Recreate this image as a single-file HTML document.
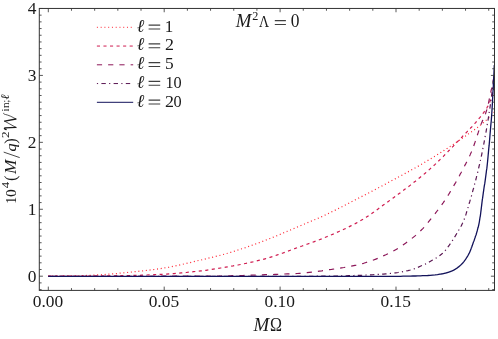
<!DOCTYPE html>
<html><head><meta charset="utf-8"><title>plot</title>
<style>
html,body{margin:0;padding:0;background:#fff;}
body{width:498px;height:339px;overflow:hidden;}
svg{display:block;will-change:transform;}
text{font-family:"Liberation Serif",serif;fill:#1a1a1a;}
</style></head><body>
<svg width="498" height="339" viewBox="0 0 498 339">
<rect width="498" height="339" fill="#fff"/>

<defs><clipPath id="c"><rect x="39.3" y="8.45" width="455.2" height="281.95"/></clipPath></defs>
<g clip-path="url(#c)" fill="none" stroke-linecap="butt" stroke-linejoin="round">
<path d="M48.3,276.0L50.8,276.0L53.2,276.0L55.7,276.0L58.2,276.0L60.6,276.0L63.1,275.9L65.5,275.9L68.0,275.9L70.5,275.9L72.9,275.8L75.4,275.8L77.9,275.8L80.3,275.7L82.8,275.6L85.3,275.5L87.7,275.4L90.2,275.3L92.6,275.2L95.1,275.1L97.6,274.9L100.0,274.8L102.5,274.7L105.0,274.5L107.4,274.3L109.9,274.1L112.4,273.9L114.8,273.7L117.3,273.5L119.7,273.2L122.2,273.0L124.7,272.7L127.1,272.5L129.6,272.2L132.1,272.0L134.5,271.7L137.0,271.5L139.5,271.2L141.9,271.0L144.4,270.7L146.8,270.4L149.3,270.1L151.8,269.8L154.2,269.5L156.7,269.1L159.2,268.8L161.6,268.4L164.1,268.0L166.5,267.6L169.0,267.2L171.5,266.7L173.9,266.2L176.4,265.7L178.9,265.2L181.3,264.6L183.8,264.0L186.3,263.5L188.7,262.9L191.2,262.3L193.6,261.7L196.1,261.1L198.6,260.5L201.0,260.0L203.5,259.4L206.0,258.8L208.4,258.2L210.9,257.6L213.4,257.0L215.8,256.4L218.3,255.8L220.7,255.2L223.2,254.5L225.7,253.8L228.1,253.1L230.6,252.4L233.1,251.6L235.5,250.8L238.0,250.0L240.5,249.2L242.9,248.4L245.4,247.6L247.8,246.7L250.3,245.8L252.8,245.0L255.2,244.1L257.7,243.2L260.2,242.3L262.6,241.4L265.1,240.4L267.6,239.5L270.0,238.5L272.5,237.5L274.9,236.5L277.4,235.5L279.9,234.5L282.3,233.4L284.8,232.4L287.3,231.3L289.7,230.3L292.2,229.2L294.7,228.2L297.1,227.1L299.6,226.1L302.0,225.0L304.5,224.0L307.0,223.0L309.4,221.9L311.9,220.9L314.4,219.8L316.8,218.8L319.3,217.7L321.8,216.6L324.2,215.5L326.7,214.3L329.1,213.1L331.6,211.9L334.1,210.7L336.5,209.5L339.0,208.2L341.5,207.0L343.9,205.7L346.4,204.5L348.8,203.2L351.3,201.9L353.8,200.6L356.2,199.4L358.7,198.1L361.2,196.8L363.6,195.5L366.1,194.3L368.6,193.0L371.0,191.7L373.5,190.4L375.9,189.1L378.4,187.8L380.9,186.5L383.3,185.2L385.8,183.9L388.3,182.5L390.7,181.2L393.2,179.9L395.7,178.6L398.1,177.2L400.6,175.9L403.0,174.6L405.5,173.2L408.0,171.9L410.4,170.5L412.9,169.1L415.4,167.8L417.8,166.4L420.3,165.0L422.8,163.5L425.2,162.1L427.7,160.6L430.1,159.1L432.6,157.6L435.1,156.1L437.5,154.6L440.0,153.0L440.2,152.9L440.4,152.8L440.6,152.6L440.8,152.5L441.1,152.4L441.3,152.2L441.5,152.1L441.7,152.0L441.9,151.8L442.1,151.7L442.3,151.6L442.5,151.4L442.7,151.3L442.9,151.2L443.2,151.0L443.4,150.9L443.6,150.8L443.8,150.6L444.0,150.5L444.2,150.4L444.4,150.2L444.6,150.1L444.8,150.0L445.1,149.8L445.3,149.7L445.5,149.5L445.7,149.4L445.9,149.3L446.1,149.1L446.3,149.0L446.5,148.9L446.7,148.7L446.9,148.6L447.2,148.5L447.4,148.3L447.6,148.2L447.8,148.0L448.0,147.9L448.2,147.8L448.4,147.6L448.6,147.5L448.8,147.4L449.0,147.2L449.3,147.1L449.5,146.9L449.7,146.8L449.9,146.7L450.1,146.5L450.3,146.4L450.5,146.2L450.7,146.1L450.9,146.0L451.2,145.8L451.4,145.7L451.6,145.5L451.8,145.4L452.0,145.3L452.2,145.1L452.4,145.0L452.6,144.8L452.8,144.7L453.0,144.6L453.3,144.4L453.5,144.3L453.7,144.1L453.9,144.0L454.1,143.9L454.3,143.7L454.5,143.6L454.7,143.4L454.9,143.3L455.2,143.1L455.4,143.0L455.6,142.9L455.8,142.7L456.0,142.6L456.2,142.4L456.4,142.3L456.6,142.1L456.8,142.0L457.0,141.9L457.3,141.7L457.5,141.6L457.7,141.4L457.9,141.3L458.1,141.1L458.3,141.0L458.5,140.8L458.7,140.7L458.9,140.6L459.1,140.4L459.4,140.3L459.6,140.1L459.8,140.0L460.0,139.8L460.2,139.7L460.4,139.5L460.6,139.4L460.8,139.2L461.0,139.1L461.3,139.0L461.5,138.8L461.7,138.7L461.9,138.5L462.1,138.4L462.3,138.2L462.5,138.1L462.7,137.9L462.9,137.8L463.1,137.6L463.4,137.5L463.6,137.4L463.8,137.2L464.0,137.1L464.2,136.9L464.4,136.8L464.6,136.6L464.8,136.5L465.0,136.3L465.3,136.2L465.5,136.0L465.7,135.9L465.9,135.8L466.1,135.6L466.3,135.5L466.5,135.3L466.7,135.2L466.9,135.0L467.1,134.9L467.4,134.7L467.6,134.6L467.8,134.4L468.0,134.3L468.2,134.1L468.4,134.0L468.6,133.8L468.8,133.7L469.0,133.6L469.2,133.4L469.5,133.3L469.7,133.1L469.9,133.0L470.1,132.8L470.3,132.7L470.5,132.5L470.7,132.4L470.9,132.2L471.1,132.1L471.4,131.9L471.6,131.8L471.8,131.6L472.0,131.5L472.2,131.3L472.4,131.2L472.6,131.0L472.8,130.9L473.0,130.7L473.2,130.5L473.5,130.4L473.7,130.2L473.9,130.1L474.1,129.9L474.3,129.8L474.5,129.6L474.7,129.5L474.9,129.3L475.1,129.2L475.4,129.0L475.6,128.8L475.8,128.7L476.0,128.5L476.2,128.4L476.4,128.2L476.6,128.1L476.8,127.9L477.0,127.7L477.2,127.6L477.5,127.4L477.7,127.3L477.9,127.1L478.1,126.9L478.3,126.8L478.5,126.6L478.7,126.4L478.9,126.3L479.1,126.1L479.3,126.0L479.6,125.8L479.8,125.6L480.0,125.5L480.2,125.3L480.4,125.1L480.6,125.0L480.8,124.8L481.0,124.6L481.2,124.5L481.5,124.3L481.7,124.1L481.9,123.9L482.1,123.8L482.3,123.6L482.5,123.4L482.7,123.3L482.9,123.1L483.1,122.9L483.3,122.7L483.6,122.6L483.8,122.4L484.0,122.2L484.2,122.0L484.4,121.9L484.6,121.7L484.8,121.5L485.0,121.3L485.2,121.1L485.5,121.0L485.7,120.8L485.9,120.6L486.1,120.4L486.3,120.2L486.5,120.0L486.7,119.9L486.9,119.7L487.1,119.5L487.3,119.3L487.6,119.1L487.8,118.9L488.0,118.7L488.2,118.5L488.4,118.3L488.6,118.1L488.8,117.9L489.0,117.7L489.2,117.5L489.4,117.3L489.7,117.1L489.9,116.9L490.1,116.7L490.3,116.5L490.5,116.3L490.7,116.1L490.9,115.8L491.1,115.6L491.3,115.4L491.6,115.2L491.8,115.0L492.0,114.7L492.2,114.5L492.4,114.3L492.6,114.1L492.8,113.8L493.0,113.6L493.2,113.4L493.4,113.1L493.7,112.9L493.9,112.7L494.1,112.5L494.3,112.2L494.5,112.0" stroke="#ff2230" stroke-width="1.2" stroke-dasharray="1 2.76"/>
<path d="M48.3,276.1L50.8,276.1L53.2,276.1L55.7,276.1L58.2,276.1L60.6,276.1L63.1,276.1L65.5,276.1L68.0,276.1L70.5,276.1L72.9,276.0L75.4,276.0L77.9,276.0L80.3,276.0L82.8,276.0L85.3,276.0L87.7,276.0L90.2,276.0L92.6,275.9L95.1,275.9L97.6,275.9L100.0,275.9L102.5,275.9L105.0,275.9L107.4,275.8L109.9,275.8L112.4,275.8L114.8,275.8L117.3,275.7L119.7,275.7L122.2,275.6L124.7,275.6L127.1,275.6L129.6,275.5L132.1,275.5L134.5,275.4L137.0,275.3L139.5,275.3L141.9,275.2L144.4,275.1L146.8,275.0L149.3,274.9L151.8,274.8L154.2,274.7L156.7,274.6L159.2,274.5L161.6,274.3L164.1,274.2L166.5,274.1L169.0,273.9L171.5,273.7L173.9,273.6L176.4,273.4L178.9,273.1L181.3,272.9L183.8,272.7L186.3,272.5L188.7,272.2L191.2,272.0L193.6,271.7L196.1,271.4L198.6,271.2L201.0,270.9L203.5,270.6L206.0,270.3L208.4,269.9L210.9,269.6L213.4,269.2L215.8,268.8L218.3,268.4L220.7,268.0L223.2,267.6L225.7,267.2L228.1,266.8L230.6,266.3L233.1,265.9L235.5,265.4L238.0,265.0L240.5,264.5L242.9,264.0L245.4,263.5L247.8,263.0L250.3,262.4L252.8,261.9L255.2,261.3L257.7,260.7L260.2,260.1L262.6,259.5L265.1,258.8L267.6,258.1L270.0,257.3L272.5,256.6L274.9,255.8L277.4,254.9L279.9,254.0L282.3,253.2L284.8,252.3L287.3,251.4L289.7,250.5L292.2,249.5L294.7,248.6L297.1,247.7L299.6,246.8L302.0,246.0L304.5,245.1L307.0,244.2L309.4,243.4L311.9,242.5L314.4,241.6L316.8,240.7L319.3,239.8L321.8,238.8L324.2,237.8L326.7,236.8L329.1,235.8L331.6,234.7L334.1,233.7L336.5,232.6L339.0,231.5L341.5,230.4L343.9,229.3L346.4,228.1L348.8,226.9L351.3,225.6L353.8,224.4L356.2,223.1L358.7,221.7L361.2,220.3L363.6,218.9L366.1,217.3L368.6,215.7L371.0,214.0L373.5,212.3L375.9,210.5L378.4,208.7L380.9,206.9L383.3,205.1L385.8,203.3L388.3,201.5L390.7,199.7L393.2,197.9L395.7,196.1L398.1,194.3L400.6,192.5L403.0,190.7L405.5,188.8L408.0,187.0L410.4,185.1L412.9,183.1L415.4,181.2L417.8,179.2L420.3,177.2L422.8,175.2L425.2,173.2L427.7,171.1L430.1,168.9L432.6,166.7L435.1,164.4L437.5,162.0L440.0,159.6L440.2,159.4L440.4,159.2L440.6,159.0L440.8,158.8L441.1,158.6L441.3,158.4L441.5,158.2L441.7,158.0L441.9,157.8L442.1,157.6L442.3,157.4L442.5,157.2L442.7,156.9L442.9,156.7L443.2,156.5L443.4,156.3L443.6,156.1L443.8,155.9L444.0,155.7L444.2,155.5L444.4,155.3L444.6,155.0L444.8,154.8L445.1,154.6L445.3,154.4L445.5,154.2L445.7,154.0L445.9,153.8L446.1,153.6L446.3,153.3L446.5,153.1L446.7,152.9L446.9,152.7L447.2,152.5L447.4,152.3L447.6,152.0L447.8,151.8L448.0,151.6L448.2,151.4L448.4,151.2L448.6,151.0L448.8,150.7L449.0,150.5L449.3,150.3L449.5,150.1L449.7,149.9L449.9,149.7L450.1,149.4L450.3,149.2L450.5,149.0L450.7,148.8L450.9,148.6L451.2,148.4L451.4,148.1L451.6,147.9L451.8,147.7L452.0,147.5L452.2,147.3L452.4,147.0L452.6,146.8L452.8,146.6L453.0,146.4L453.3,146.2L453.5,145.9L453.7,145.7L453.9,145.5L454.1,145.3L454.3,145.0L454.5,144.8L454.7,144.6L454.9,144.4L455.2,144.2L455.4,143.9L455.6,143.7L455.8,143.5L456.0,143.3L456.2,143.0L456.4,142.8L456.6,142.6L456.8,142.4L457.0,142.2L457.3,141.9L457.5,141.7L457.7,141.5L457.9,141.3L458.1,141.0L458.3,140.8L458.5,140.6L458.7,140.4L458.9,140.1L459.1,139.9L459.4,139.7L459.6,139.5L459.8,139.3L460.0,139.0L460.2,138.8L460.4,138.6L460.6,138.4L460.8,138.2L461.0,137.9L461.3,137.7L461.5,137.5L461.7,137.3L461.9,137.1L462.1,136.9L462.3,136.6L462.5,136.4L462.7,136.2L462.9,136.0L463.1,135.8L463.4,135.6L463.6,135.3L463.8,135.1L464.0,134.9L464.2,134.7L464.4,134.5L464.6,134.3L464.8,134.0L465.0,133.8L465.3,133.6L465.5,133.4L465.7,133.2L465.9,133.0L466.1,132.8L466.3,132.5L466.5,132.3L466.7,132.1L466.9,131.9L467.1,131.7L467.4,131.5L467.6,131.2L467.8,131.0L468.0,130.8L468.2,130.6L468.4,130.4L468.6,130.2L468.8,129.9L469.0,129.7L469.2,129.5L469.5,129.3L469.7,129.1L469.9,128.8L470.1,128.6L470.3,128.4L470.5,128.2L470.7,128.0L470.9,127.7L471.1,127.5L471.4,127.3L471.6,127.1L471.8,126.8L472.0,126.6L472.2,126.4L472.4,126.2L472.6,125.9L472.8,125.7L473.0,125.5L473.2,125.3L473.5,125.0L473.7,124.8L473.9,124.6L474.1,124.3L474.3,124.1L474.5,123.9L474.7,123.6L474.9,123.4L475.1,123.2L475.4,122.9L475.6,122.7L475.8,122.4L476.0,122.2L476.2,122.0L476.4,121.7L476.6,121.5L476.8,121.2L477.0,121.0L477.2,120.7L477.5,120.5L477.7,120.2L477.9,120.0L478.1,119.7L478.3,119.5L478.5,119.2L478.7,119.0L478.9,118.7L479.1,118.5L479.3,118.2L479.6,117.9L479.8,117.7L480.0,117.4L480.2,117.1L480.4,116.9L480.6,116.6L480.8,116.3L481.0,116.1L481.2,115.8L481.5,115.5L481.7,115.3L481.9,115.0L482.1,114.7L482.3,114.4L482.5,114.1L482.7,113.9L482.9,113.6L483.1,113.3L483.3,113.0L483.6,112.7L483.8,112.4L484.0,112.1L484.2,111.8L484.4,111.5L484.6,111.2L484.8,110.9L485.0,110.6L485.2,110.3L485.5,110.0L485.7,109.7L485.9,109.4L486.1,109.1L486.3,108.8L486.5,108.4L486.7,108.1L486.9,107.8L487.1,107.4L487.3,107.0L487.6,106.7L487.8,106.3L488.0,105.9L488.2,105.5L488.4,105.1L488.6,104.6L488.8,104.2L489.0,103.7L489.2,103.2L489.4,102.7L489.7,102.2L489.9,101.6L490.1,101.1L490.3,100.5L490.5,99.9L490.7,99.3L490.9,98.7L491.1,98.1L491.3,97.4L491.6,96.8L491.8,96.1L492.0,95.4L492.2,94.7L492.4,94.0L492.6,93.2L492.8,92.5L493.0,91.7L493.2,90.9L493.4,90.1L493.7,89.3L493.9,88.5L494.1,87.7L494.3,86.9L494.5,86.0" stroke="#cf1c50" stroke-width="1.2" stroke-dasharray="3.1 3.45"/>
<path d="M48.3,276.3L50.8,276.3L53.2,276.3L55.7,276.3L58.2,276.3L60.6,276.3L63.1,276.3L65.5,276.3L68.0,276.3L70.5,276.3L72.9,276.3L75.4,276.3L77.9,276.3L80.3,276.3L82.8,276.3L85.3,276.3L87.7,276.3L90.2,276.3L92.6,276.3L95.1,276.3L97.6,276.3L100.0,276.3L102.5,276.3L105.0,276.3L107.4,276.3L109.9,276.3L112.4,276.3L114.8,276.3L117.3,276.3L119.7,276.3L122.2,276.3L124.7,276.3L127.1,276.3L129.6,276.3L132.1,276.3L134.5,276.3L137.0,276.3L139.5,276.3L141.9,276.3L144.4,276.3L146.8,276.3L149.3,276.3L151.8,276.3L154.2,276.3L156.7,276.3L159.2,276.3L161.6,276.2L164.1,276.2L166.5,276.2L169.0,276.2L171.5,276.2L173.9,276.2L176.4,276.2L178.9,276.2L181.3,276.2L183.8,276.2L186.3,276.2L188.7,276.2L191.2,276.2L193.6,276.2L196.1,276.2L198.6,276.2L201.0,276.2L203.5,276.2L206.0,276.2L208.4,276.1L210.9,276.1L213.4,276.1L215.8,276.1L218.3,276.0L220.7,276.0L223.2,275.9L225.7,275.9L228.1,275.8L230.6,275.8L233.1,275.7L235.5,275.7L238.0,275.6L240.5,275.5L242.9,275.5L245.4,275.4L247.8,275.3L250.3,275.2L252.8,275.1L255.2,275.1L257.7,275.0L260.2,274.9L262.6,274.8L265.1,274.7L267.6,274.6L270.0,274.6L272.5,274.5L274.9,274.4L277.4,274.3L279.9,274.2L282.3,274.1L284.8,274.0L287.3,273.9L289.7,273.8L292.2,273.7L294.7,273.6L297.1,273.5L299.6,273.3L302.0,273.2L304.5,272.9L307.0,272.7L309.4,272.4L311.9,272.1L314.4,271.8L316.8,271.5L319.3,271.1L321.8,270.8L324.2,270.4L326.7,270.1L329.1,269.7L331.6,269.4L334.1,269.0L336.5,268.6L339.0,268.3L341.5,267.9L343.9,267.5L346.4,267.0L348.8,266.6L351.3,266.1L353.8,265.6L356.2,265.1L358.7,264.5L361.2,263.9L363.6,263.3L366.1,262.5L368.6,261.7L371.0,260.9L373.5,260.0L375.9,259.1L378.4,258.1L380.9,257.0L383.3,255.9L385.8,254.8L388.3,253.6L390.7,252.4L393.2,251.1L395.7,249.7L398.1,248.3L400.6,246.7L403.0,245.0L405.5,243.3L408.0,241.4L410.4,239.6L412.9,237.6L415.4,235.6L417.8,233.4L420.3,231.1L422.8,228.6L425.2,226.0L427.7,223.0L430.1,219.9L432.6,216.8L435.1,213.7L437.5,210.5L440.0,207.2L440.2,206.9L440.4,206.7L440.6,206.4L440.8,206.1L441.1,205.8L441.3,205.5L441.5,205.2L441.7,204.9L441.9,204.6L442.1,204.3L442.3,204.0L442.5,203.7L442.7,203.4L442.9,203.1L443.2,202.8L443.4,202.5L443.6,202.2L443.8,201.9L444.0,201.6L444.2,201.3L444.4,201.0L444.6,200.7L444.8,200.3L445.1,200.0L445.3,199.7L445.5,199.4L445.7,199.1L445.9,198.7L446.1,198.4L446.3,198.1L446.5,197.8L446.7,197.5L446.9,197.1L447.2,196.8L447.4,196.5L447.6,196.1L447.8,195.8L448.0,195.5L448.2,195.1L448.4,194.8L448.6,194.5L448.8,194.1L449.0,193.8L449.3,193.4L449.5,193.1L449.7,192.7L449.9,192.4L450.1,192.0L450.3,191.7L450.5,191.4L450.7,191.0L450.9,190.6L451.2,190.3L451.4,189.9L451.6,189.6L451.8,189.2L452.0,188.9L452.2,188.5L452.4,188.2L452.6,187.8L452.8,187.4L453.0,187.1L453.3,186.7L453.5,186.3L453.7,186.0L453.9,185.6L454.1,185.2L454.3,184.9L454.5,184.5L454.7,184.1L454.9,183.8L455.2,183.4L455.4,183.0L455.6,182.6L455.8,182.3L456.0,181.9L456.2,181.5L456.4,181.1L456.6,180.8L456.8,180.4L457.0,180.0L457.3,179.6L457.5,179.2L457.7,178.9L457.9,178.5L458.1,178.1L458.3,177.7L458.5,177.3L458.7,176.9L458.9,176.6L459.1,176.2L459.4,175.8L459.6,175.4L459.8,175.0L460.0,174.6L460.2,174.2L460.4,173.8L460.6,173.4L460.8,173.1L461.0,172.7L461.3,172.3L461.5,171.9L461.7,171.5L461.9,171.1L462.1,170.7L462.3,170.3L462.5,169.9L462.7,169.5L462.9,169.1L463.1,168.7L463.4,168.3L463.6,167.9L463.8,167.5L464.0,167.1L464.2,166.7L464.4,166.3L464.6,165.9L464.8,165.5L465.0,165.1L465.3,164.7L465.5,164.3L465.7,163.9L465.9,163.5L466.1,163.1L466.3,162.7L466.5,162.3L466.7,161.9L466.9,161.4L467.1,161.0L467.4,160.6L467.6,160.2L467.8,159.8L468.0,159.3L468.2,158.9L468.4,158.5L468.6,158.0L468.8,157.6L469.0,157.1L469.2,156.7L469.5,156.2L469.7,155.8L469.9,155.3L470.1,154.9L470.3,154.4L470.5,153.9L470.7,153.4L470.9,153.0L471.1,152.5L471.4,152.0L471.6,151.5L471.8,151.0L472.0,150.5L472.2,150.0L472.4,149.5L472.6,148.9L472.8,148.4L473.0,147.8L473.2,147.3L473.5,146.7L473.7,146.1L473.9,145.5L474.1,144.9L474.3,144.3L474.5,143.7L474.7,143.1L474.9,142.5L475.1,141.8L475.4,141.2L475.6,140.6L475.8,139.9L476.0,139.3L476.2,138.7L476.4,138.0L476.6,137.4L476.8,136.7L477.0,136.1L477.2,135.4L477.5,134.8L477.7,134.1L477.9,133.5L478.1,132.9L478.3,132.2L478.5,131.6L478.7,131.0L478.9,130.3L479.1,129.7L479.3,129.1L479.6,128.5L479.8,127.9L480.0,127.3L480.2,126.7L480.4,126.1L480.6,125.5L480.8,124.9L481.0,124.4L481.2,123.8L481.5,123.3L481.7,122.8L481.9,122.3L482.1,121.8L482.3,121.3L482.5,120.8L482.7,120.3L482.9,119.8L483.1,119.3L483.3,118.8L483.6,118.4L483.8,117.9L484.0,117.4L484.2,116.9L484.4,116.4L484.6,115.9L484.8,115.3L485.0,114.8L485.2,114.2L485.5,113.7L485.7,113.1L485.9,112.5L486.1,111.9L486.3,111.3L486.5,110.6L486.7,110.0L486.9,109.3L487.1,108.5L487.3,107.7L487.6,106.9L487.8,106.1L488.0,105.3L488.2,104.4L488.4,103.5L488.6,102.6L488.8,101.6L489.0,100.7L489.2,99.7L489.4,98.7L489.7,97.8L489.9,96.8L490.1,95.8L490.3,94.8L490.5,93.7L490.7,92.7L490.9,91.7L491.1,90.7L491.3,89.7L491.6,88.7L491.8,87.8L492.0,86.7L492.2,85.7L492.4,84.7L492.6,83.7L492.8,82.6L493.0,81.6L493.2,80.5L493.4,79.4L493.7,78.4L493.9,77.3L494.1,76.2L494.3,75.1L494.5,74.0" stroke="#8c1658" stroke-width="1.2" stroke-dasharray="5.2 6.04"/>
<path d="M48.3,276.4L50.8,276.3L53.2,276.3L55.7,276.3L58.2,276.3L60.6,276.3L63.1,276.3L65.5,276.3L68.0,276.3L70.5,276.3L72.9,276.3L75.4,276.3L77.9,276.3L80.3,276.3L82.8,276.3L85.3,276.3L87.7,276.3L90.2,276.3L92.6,276.3L95.1,276.3L97.6,276.3L100.0,276.3L102.5,276.3L105.0,276.3L107.4,276.3L109.9,276.3L112.4,276.3L114.8,276.3L117.3,276.3L119.7,276.3L122.2,276.3L124.7,276.3L127.1,276.3L129.6,276.3L132.1,276.3L134.5,276.3L137.0,276.3L139.5,276.3L141.9,276.3L144.4,276.3L146.8,276.3L149.3,276.3L151.8,276.3L154.2,276.3L156.7,276.3L159.2,276.3L161.6,276.3L164.1,276.3L166.5,276.3L169.0,276.3L171.5,276.3L173.9,276.3L176.4,276.3L178.9,276.3L181.3,276.3L183.8,276.3L186.3,276.3L188.7,276.3L191.2,276.3L193.6,276.3L196.1,276.3L198.6,276.3L201.0,276.3L203.5,276.3L206.0,276.3L208.4,276.3L210.9,276.3L213.4,276.3L215.8,276.3L218.3,276.3L220.7,276.3L223.2,276.3L225.7,276.3L228.1,276.3L230.6,276.3L233.1,276.3L235.5,276.3L238.0,276.3L240.5,276.3L242.9,276.3L245.4,276.3L247.8,276.3L250.3,276.3L252.8,276.3L255.2,276.3L257.7,276.3L260.2,276.3L262.6,276.3L265.1,276.3L267.6,276.3L270.0,276.3L272.5,276.3L274.9,276.3L277.4,276.3L279.9,276.3L282.3,276.3L284.8,276.3L287.3,276.3L289.7,276.3L292.2,276.3L294.7,276.3L297.1,276.3L299.6,276.3L302.0,276.3L304.5,276.3L307.0,276.3L309.4,276.3L311.9,276.3L314.4,276.2L316.8,276.2L319.3,276.2L321.8,276.2L324.2,276.1L326.7,276.1L329.1,276.1L331.6,276.0L334.1,276.0L336.5,276.0L339.0,275.9L341.5,275.9L343.9,275.8L346.4,275.8L348.8,275.7L351.3,275.6L353.8,275.5L356.2,275.4L358.7,275.4L361.2,275.3L363.6,275.2L366.1,275.0L368.6,274.9L371.0,274.8L373.5,274.7L375.9,274.5L378.4,274.4L380.9,274.2L383.3,274.1L385.8,273.9L388.3,273.7L390.7,273.4L393.2,273.2L395.7,272.8L398.1,272.5L400.6,272.1L403.0,271.6L405.5,271.1L408.0,270.6L410.4,270.0L412.9,269.3L415.4,268.4L417.8,267.4L420.3,266.3L422.8,265.2L425.2,264.1L427.7,262.8L430.1,261.5L432.6,260.1L435.1,258.7L437.5,257.2L440.0,255.4L440.2,255.3L440.4,255.1L440.6,254.9L440.8,254.8L441.1,254.6L441.3,254.4L441.5,254.3L441.7,254.1L441.9,253.9L442.1,253.7L442.3,253.5L442.5,253.3L442.7,253.1L442.9,252.9L443.2,252.7L443.4,252.5L443.6,252.3L443.8,252.1L444.0,251.9L444.2,251.6L444.4,251.4L444.6,251.2L444.8,250.9L445.1,250.7L445.3,250.4L445.5,250.2L445.7,249.9L445.9,249.6L446.1,249.4L446.3,249.1L446.5,248.9L446.7,248.6L446.9,248.3L447.2,248.0L447.4,247.8L447.6,247.5L447.8,247.2L448.0,246.9L448.2,246.6L448.4,246.4L448.6,246.1L448.8,245.8L449.0,245.5L449.3,245.2L449.5,244.9L449.7,244.6L449.9,244.3L450.1,244.0L450.3,243.7L450.5,243.4L450.7,243.2L450.9,242.9L451.2,242.6L451.4,242.3L451.6,241.9L451.8,241.6L452.0,241.3L452.2,241.0L452.4,240.7L452.6,240.3L452.8,240.0L453.0,239.7L453.3,239.4L453.5,239.0L453.7,238.7L453.9,238.3L454.1,238.0L454.3,237.6L454.5,237.3L454.7,236.9L454.9,236.6L455.2,236.2L455.4,235.9L455.6,235.5L455.8,235.2L456.0,234.8L456.2,234.4L456.4,234.1L456.6,233.7L456.8,233.4L457.0,233.0L457.3,232.6L457.5,232.3L457.7,231.9L457.9,231.6L458.1,231.2L458.3,230.8L458.5,230.5L458.7,230.1L458.9,229.8L459.1,229.4L459.4,229.1L459.6,228.7L459.8,228.4L460.0,228.0L460.2,227.6L460.4,227.3L460.6,226.9L460.8,226.5L461.0,226.2L461.3,225.8L461.5,225.4L461.7,225.0L461.9,224.6L462.1,224.1L462.3,223.7L462.5,223.3L462.7,222.8L462.9,222.4L463.1,221.9L463.4,221.4L463.6,220.9L463.8,220.4L464.0,219.8L464.2,219.3L464.4,218.7L464.6,218.2L464.8,217.6L465.0,217.0L465.3,216.4L465.5,215.8L465.7,215.1L465.9,214.5L466.1,213.8L466.3,213.2L466.5,212.5L466.7,211.8L466.9,211.2L467.1,210.5L467.4,209.8L467.6,209.1L467.8,208.4L468.0,207.7L468.2,207.0L468.4,206.2L468.6,205.5L468.8,204.8L469.0,204.1L469.2,203.3L469.5,202.6L469.7,201.9L469.9,201.1L470.1,200.4L470.3,199.7L470.5,198.9L470.7,198.2L470.9,197.5L471.1,196.8L471.4,196.0L471.6,195.3L471.8,194.6L472.0,193.8L472.2,193.1L472.4,192.3L472.6,191.6L472.8,190.8L473.0,190.1L473.2,189.3L473.5,188.5L473.7,187.8L473.9,187.0L474.1,186.2L474.3,185.4L474.5,184.7L474.7,183.9L474.9,183.1L475.1,182.3L475.4,181.5L475.6,180.7L475.8,179.8L476.0,179.0L476.2,178.2L476.4,177.4L476.6,176.5L476.8,175.7L477.0,174.8L477.2,174.0L477.5,173.1L477.7,172.3L477.9,171.4L478.1,170.5L478.3,169.7L478.5,168.8L478.7,167.9L478.9,167.0L479.1,166.1L479.3,165.2L479.6,164.3L479.8,163.3L480.0,162.4L480.2,161.5L480.4,160.5L480.6,159.5L480.8,158.6L481.0,157.6L481.2,156.6L481.5,155.6L481.7,154.6L481.9,153.6L482.1,152.5L482.3,151.5L482.5,150.5L482.7,149.4L482.9,148.3L483.1,147.3L483.3,146.2L483.6,145.1L483.8,144.0L484.0,142.9L484.2,141.8L484.4,140.7L484.6,139.6L484.8,138.4L485.0,137.3L485.2,136.2L485.5,135.0L485.7,133.8L485.9,132.7L486.1,131.5L486.3,130.3L486.5,129.1L486.7,127.9L486.9,126.7L487.1,125.4L487.3,124.2L487.6,122.9L487.8,121.7L488.0,120.4L488.2,119.1L488.4,117.8L488.6,116.4L488.8,115.1L489.0,113.8L489.2,112.4L489.4,111.0L489.7,109.6L489.9,108.2L490.1,106.7L490.3,105.3L490.5,103.8L490.7,102.3L490.9,100.7L491.1,99.2L491.3,97.6L491.6,96.0L491.8,94.4L492.0,92.8L492.2,91.1L492.4,89.5L492.6,87.8L492.8,86.1L493.0,84.4L493.2,82.7L493.4,80.9L493.7,79.2L493.9,77.4L494.1,75.6L494.3,73.8L494.5,72.0" stroke="#5a1652" stroke-width="1.2" stroke-dasharray="1.2 3.3 4.4 3.3"/>
<path d="M48.3,276.4L50.8,276.4L53.2,276.4L55.7,276.4L58.2,276.4L60.6,276.4L63.1,276.4L65.5,276.4L68.0,276.4L70.5,276.4L72.9,276.4L75.4,276.4L77.9,276.4L80.3,276.4L82.8,276.4L85.3,276.4L87.7,276.4L90.2,276.4L92.6,276.4L95.1,276.4L97.6,276.4L100.0,276.4L102.5,276.4L105.0,276.4L107.4,276.4L109.9,276.4L112.4,276.4L114.8,276.4L117.3,276.4L119.7,276.4L122.2,276.4L124.7,276.4L127.1,276.4L129.6,276.4L132.1,276.4L134.5,276.4L137.0,276.4L139.5,276.4L141.9,276.4L144.4,276.4L146.8,276.4L149.3,276.4L151.8,276.4L154.2,276.4L156.7,276.4L159.2,276.4L161.6,276.4L164.1,276.4L166.5,276.4L169.0,276.4L171.5,276.4L173.9,276.4L176.4,276.4L178.9,276.4L181.3,276.4L183.8,276.4L186.3,276.4L188.7,276.4L191.2,276.4L193.6,276.4L196.1,276.4L198.6,276.4L201.0,276.4L203.5,276.4L206.0,276.4L208.4,276.4L210.9,276.4L213.4,276.4L215.8,276.4L218.3,276.4L220.7,276.4L223.2,276.4L225.7,276.4L228.1,276.4L230.6,276.4L233.1,276.4L235.5,276.4L238.0,276.4L240.5,276.4L242.9,276.4L245.4,276.4L247.8,276.4L250.3,276.4L252.8,276.4L255.2,276.4L257.7,276.4L260.2,276.4L262.6,276.4L265.1,276.4L267.6,276.4L270.0,276.4L272.5,276.4L274.9,276.4L277.4,276.4L279.9,276.4L282.3,276.4L284.8,276.4L287.3,276.4L289.7,276.4L292.2,276.4L294.7,276.4L297.1,276.4L299.6,276.4L302.0,276.4L304.5,276.4L307.0,276.4L309.4,276.4L311.9,276.4L314.4,276.4L316.8,276.4L319.3,276.4L321.8,276.4L324.2,276.4L326.7,276.4L329.1,276.4L331.6,276.4L334.1,276.4L336.5,276.4L339.0,276.4L341.5,276.4L343.9,276.4L346.4,276.4L348.8,276.4L351.3,276.4L353.8,276.4L356.2,276.4L358.7,276.4L361.2,276.4L363.6,276.4L366.1,276.4L368.6,276.4L371.0,276.4L373.5,276.4L375.9,276.4L378.4,276.4L380.9,276.4L383.3,276.4L385.8,276.4L388.3,276.4L390.7,276.3L393.2,276.3L395.7,276.3L398.1,276.3L400.6,276.3L403.0,276.2L405.5,276.2L408.0,276.1L410.4,276.1L412.9,276.0L415.4,276.0L417.8,275.9L420.3,275.8L422.8,275.7L425.2,275.6L427.7,275.5L430.1,275.3L432.6,275.1L435.1,274.9L437.5,274.6L440.0,274.2L440.2,274.2L440.4,274.1L440.6,274.1L440.8,274.1L441.0,274.0L441.3,274.0L441.5,274.0L441.7,273.9L441.9,273.9L442.1,273.9L442.3,273.8L442.5,273.8L442.7,273.8L442.9,273.7L443.1,273.7L443.4,273.6L443.6,273.6L443.8,273.5L444.0,273.5L444.2,273.4L444.4,273.4L444.6,273.3L444.8,273.3L445.0,273.2L445.2,273.2L445.5,273.1L445.7,273.1L445.9,273.0L446.1,273.0L446.3,272.9L446.5,272.9L446.7,272.8L446.9,272.7L447.1,272.7L447.3,272.6L447.5,272.5L447.8,272.5L448.0,272.4L448.2,272.3L448.4,272.3L448.6,272.2L448.8,272.1L449.0,272.1L449.2,272.0L449.4,271.9L449.6,271.8L449.9,271.8L450.1,271.7L450.3,271.6L450.5,271.5L450.7,271.4L450.9,271.4L451.1,271.3L451.3,271.2L451.5,271.1L451.7,271.0L452.0,270.9L452.2,270.8L452.4,270.8L452.6,270.7L452.8,270.6L453.0,270.5L453.2,270.4L453.4,270.3L453.6,270.2L453.8,270.1L454.0,270.0L454.3,269.8L454.5,269.7L454.7,269.6L454.9,269.5L455.1,269.4L455.3,269.2L455.5,269.1L455.7,269.0L455.9,268.8L456.1,268.7L456.4,268.5L456.6,268.4L456.8,268.3L457.0,268.1L457.2,268.0L457.4,267.8L457.6,267.6L457.8,267.5L458.0,267.3L458.2,267.2L458.4,267.0L458.7,266.8L458.9,266.7L459.1,266.5L459.3,266.3L459.5,266.1L459.7,265.9L459.9,265.8L460.1,265.6L460.3,265.4L460.5,265.2L460.8,265.0L461.0,264.8L461.2,264.6L461.4,264.4L461.6,264.2L461.8,264.0L462.0,263.8L462.2,263.6L462.4,263.3L462.6,263.1L462.9,262.9L463.1,262.6L463.3,262.4L463.5,262.1L463.7,261.9L463.9,261.6L464.1,261.4L464.3,261.1L464.5,260.8L464.7,260.5L464.9,260.2L465.2,259.9L465.4,259.6L465.6,259.3L465.8,259.0L466.0,258.7L466.2,258.4L466.4,258.0L466.6,257.7L466.8,257.4L467.0,257.0L467.3,256.7L467.5,256.3L467.7,256.0L467.9,255.6L468.1,255.2L468.3,254.9L468.5,254.5L468.7,254.1L468.9,253.7L469.1,253.3L469.4,252.8L469.6,252.4L469.8,251.9L470.0,251.4L470.2,250.9L470.4,250.4L470.6,249.9L470.8,249.4L471.0,248.9L471.2,248.3L471.4,247.8L471.7,247.2L471.9,246.6L472.1,246.1L472.3,245.5L472.5,244.9L472.7,244.3L472.9,243.7L473.1,243.1L473.3,242.5L473.5,241.9L473.8,241.3L474.0,240.7L474.2,240.2L474.4,239.6L474.6,239.0L474.8,238.4L475.0,237.8L475.2,237.2L475.4,236.5L475.6,235.9L475.9,235.3L476.1,234.7L476.3,234.0L476.5,233.3L476.7,232.6L476.9,231.9L477.1,231.2L477.3,230.5L477.5,229.7L477.7,228.9L477.9,228.1L478.2,227.3L478.4,226.4L478.6,225.5L478.8,224.6L479.0,223.6L479.2,222.6L479.4,221.5L479.6,220.2L479.8,218.9L480.0,217.5L480.3,216.1L480.5,214.6L480.7,213.0L480.9,211.4L481.1,209.8L481.3,208.1L481.5,206.5L481.7,204.8L481.9,203.1L482.1,201.5L482.3,199.8L482.6,198.2L482.8,196.7L483.0,195.2L483.2,193.7L483.4,192.2L483.6,190.8L483.8,189.4L484.0,188.0L484.2,186.6L484.4,185.3L484.7,183.9L484.9,182.5L485.1,181.1L485.3,179.7L485.5,178.2L485.7,176.7L485.9,175.2L486.1,173.7L486.3,172.1L486.5,170.4L486.8,168.7L487.0,167.0L487.2,165.1L487.4,163.2L487.6,161.2L487.8,159.1L488.0,157.0L488.2,154.8L488.4,152.6L488.6,150.4L488.8,148.1L489.1,145.7L489.3,143.4L489.5,141.0L489.7,138.6L489.9,136.2L490.1,133.8L490.3,131.4L490.5,129.0L490.7,126.5L490.9,124.1L491.2,121.5L491.4,118.9L491.6,116.1L491.8,113.2L492.0,110.1L492.2,106.8L492.4,103.2L492.6,99.4L492.8,95.4L493.0,91.3L493.3,87.0L493.5,82.8L493.7,78.6L493.9,74.2L494.1,69.6L494.3,65.0" stroke="#12125a" stroke-width="1.3"/>
</g>
<rect x="39.3" y="8.45" width="455.2" height="281.95" stroke="#333" stroke-width="1" fill="none"/>
<path d="M48.30,290.4v-3.8M48.30,8.45v3.8M71.48,290.4v-2.3M71.48,8.45v2.3M94.66,290.4v-2.3M94.66,8.45v2.3M117.84,290.4v-2.3M117.84,8.45v2.3M141.02,290.4v-2.3M141.02,8.45v2.3M164.20,290.4v-3.8M164.20,8.45v3.8M187.38,290.4v-2.3M187.38,8.45v2.3M210.56,290.4v-2.3M210.56,8.45v2.3M233.74,290.4v-2.3M233.74,8.45v2.3M256.92,290.4v-2.3M256.92,8.45v2.3M280.10,290.4v-3.8M280.10,8.45v3.8M303.28,290.4v-2.3M303.28,8.45v2.3M326.46,290.4v-2.3M326.46,8.45v2.3M349.64,290.4v-2.3M349.64,8.45v2.3M372.82,290.4v-2.3M372.82,8.45v2.3M396.00,290.4v-3.8M396.00,8.45v3.8M419.18,290.4v-2.3M419.18,8.45v2.3M442.36,290.4v-2.3M442.36,8.45v2.3M465.54,290.4v-2.3M465.54,8.45v2.3M488.72,290.4v-2.3M488.72,8.45v2.3M39.3,289.59h2.3M494.5,289.59h-2.3M39.3,282.89h2.3M494.5,282.89h-2.3M39.3,276.20h3.6M494.5,276.20h-3.6M39.3,269.51h2.3M494.5,269.51h-2.3M39.3,262.81h2.3M494.5,262.81h-2.3M39.3,256.12h2.3M494.5,256.12h-2.3M39.3,249.43h2.3M494.5,249.43h-2.3M39.3,242.73h2.3M494.5,242.73h-2.3M39.3,236.04h2.3M494.5,236.04h-2.3M39.3,229.35h2.3M494.5,229.35h-2.3M39.3,222.66h2.3M494.5,222.66h-2.3M39.3,215.96h2.3M494.5,215.96h-2.3M39.3,209.27h3.6M494.5,209.27h-3.6M39.3,202.58h2.3M494.5,202.58h-2.3M39.3,195.88h2.3M494.5,195.88h-2.3M39.3,189.19h2.3M494.5,189.19h-2.3M39.3,182.50h2.3M494.5,182.50h-2.3M39.3,175.80h2.3M494.5,175.80h-2.3M39.3,169.11h2.3M494.5,169.11h-2.3M39.3,162.42h2.3M494.5,162.42h-2.3M39.3,155.73h2.3M494.5,155.73h-2.3M39.3,149.03h2.3M494.5,149.03h-2.3M39.3,142.34h3.6M494.5,142.34h-3.6M39.3,135.65h2.3M494.5,135.65h-2.3M39.3,128.95h2.3M494.5,128.95h-2.3M39.3,122.26h2.3M494.5,122.26h-2.3M39.3,115.57h2.3M494.5,115.57h-2.3M39.3,108.87h2.3M494.5,108.87h-2.3M39.3,102.18h2.3M494.5,102.18h-2.3M39.3,95.49h2.3M494.5,95.49h-2.3M39.3,88.80h2.3M494.5,88.80h-2.3M39.3,82.10h2.3M494.5,82.10h-2.3M39.3,75.41h3.6M494.5,75.41h-3.6M39.3,68.72h2.3M494.5,68.72h-2.3M39.3,62.02h2.3M494.5,62.02h-2.3M39.3,55.33h2.3M494.5,55.33h-2.3M39.3,48.64h2.3M494.5,48.64h-2.3M39.3,41.94h2.3M494.5,41.94h-2.3M39.3,35.25h2.3M494.5,35.25h-2.3M39.3,28.56h2.3M494.5,28.56h-2.3M39.3,21.87h2.3M494.5,21.87h-2.3M39.3,15.17h2.3M494.5,15.17h-2.3M39.3,8.48h3.6M494.5,8.48h-3.6" stroke="#3a3a3a" stroke-width="0.85" fill="none"/>
<text x="48.00" y="307.3" font-size="17.4" text-anchor="middle">0.00</text>
<text x="163.90" y="307.3" font-size="17.4" text-anchor="middle">0.05</text>
<text x="279.80" y="307.3" font-size="17.4" text-anchor="middle">0.10</text>
<text x="395.70" y="307.3" font-size="17.4" text-anchor="middle">0.15</text>
<text x="36.55" y="281.90" font-size="17.4" text-anchor="end">0</text>
<text x="36.55" y="214.97" font-size="17.4" text-anchor="end">1</text>
<text x="36.55" y="148.04" font-size="17.4" text-anchor="end">2</text>
<text x="36.55" y="81.11" font-size="17.4" text-anchor="end">3</text>
<text x="36.55" y="14.18" font-size="17.4" text-anchor="end">4</text>
<text transform="translate(253.52,330.90) scale(1.054,1)" font-size="17.9" font-style="italic" fill="#1a1a1a">M</text>
<text transform="translate(269.97,330.90) scale(0.880,1)" font-size="18.3" fill="#1a1a1a">Ω</text>
<text transform="translate(235.72,26.90) scale(1.054,1)" font-size="17.9" font-style="italic" fill="#1a1a1a">M</text>
<text transform="translate(252.16,20.10) scale(1.054,1)" font-size="11.6" fill="#1a1a1a">2</text>
<text transform="translate(258.96,26.90) scale(0.794,1)" font-size="17.5" fill="#1a1a1a">Λ</text>
<path d="M274.8,20.6H285.9M274.8,24.4H285.9" stroke="#404040" stroke-width="1.05" fill="none"/>
<text transform="translate(290.64,27.05) scale(0.981,1)" font-size="17.8" fill="#1a1a1a">0</text>
<path d="M96.9,27.30H133.2" stroke="#ff2230" stroke-width="1" fill="none" stroke-dasharray="1 2.76"/>
<text transform="translate(136.63,31.70) scale(0.983,1)" font-size="18.2" font-style="italic" fill="#1a1a1a">ℓ</text>
<path d="M148.6,25.1H160.2M148.6,29.0H160.2" stroke="#404040" stroke-width="1.05" fill="none"/>
<text transform="translate(164.70,31.70) scale(0.979,1)" font-size="17.4" fill="#1a1a1a">1</text>
<path d="M96.9,46.05H133.2" stroke="#cf1c50" stroke-width="1" fill="none" stroke-dasharray="3.1 3.45"/>
<text transform="translate(136.63,50.45) scale(0.983,1)" font-size="18.2" font-style="italic" fill="#1a1a1a">ℓ</text>
<path d="M148.6,43.85H160.2M148.6,47.75H160.2" stroke="#404040" stroke-width="1.05" fill="none"/>
<text transform="translate(165.11,50.45) scale(1.032,1)" font-size="17.4" fill="#1a1a1a">2</text>
<path d="M96.9,64.80H133.2" stroke="#8c1658" stroke-width="1" fill="none" stroke-dasharray="5.2 6.04"/>
<text transform="translate(136.63,69.20) scale(0.983,1)" font-size="18.2" font-style="italic" fill="#1a1a1a">ℓ</text>
<path d="M148.6,62.6H160.2M148.6,66.5H160.2" stroke="#404040" stroke-width="1.05" fill="none"/>
<text transform="translate(164.89,69.20) scale(0.999,1)" font-size="17.4" fill="#1a1a1a">5</text>
<path d="M96.9,83.55H133.2" stroke="#5a1652" stroke-width="1" fill="none" stroke-dasharray="1.2 3.3 4.4 3.3"/>
<text transform="translate(136.63,87.95) scale(0.983,1)" font-size="18.2" font-style="italic" fill="#1a1a1a">ℓ</text>
<path d="M148.6,81.35H160.2M148.6,85.25H160.2" stroke="#404040" stroke-width="1.05" fill="none"/>
<text transform="translate(165.38,87.95) scale(0.931,1)" font-size="17.4" fill="#1a1a1a">1</text>
<text transform="translate(173.48,87.95) scale(0.936,1)" font-size="17.4" fill="#1a1a1a">0</text>
<path d="M96.9,102.30H133.2" stroke="#12125a" stroke-width="1" fill="none"/>
<text transform="translate(136.63,106.70) scale(0.983,1)" font-size="18.2" font-style="italic" fill="#1a1a1a">ℓ</text>
<path d="M148.6,100.1H160.2M148.6,104.0H160.2" stroke="#404040" stroke-width="1.05" fill="none"/>
<text transform="translate(165.11,106.70) scale(1.032,1)" font-size="17.4" fill="#1a1a1a">2</text>
<text transform="translate(173.48,106.70) scale(0.936,1)" font-size="17.4" fill="#1a1a1a">0</text>
<g transform="translate(15.7,203) rotate(-90)"><text transform="translate(-0.80,0.00) scale(0.874,1)" font-size="15.6" fill="#1a1a1a">1</text><text transform="translate(6.01,0.00) scale(0.998,1)" font-size="15.6" fill="#1a1a1a">0</text><text transform="translate(14.85,-6.70) scale(1.133,1)" font-size="11.2" fill="#1a1a1a">4</text><text transform="translate(21.88,0.00) scale(0.929,1)" font-size="17.6" fill="#1a1a1a">(</text><text transform="translate(29.00,0.00) scale(1.042,1)" font-size="16.6" font-style="italic" fill="#1a1a1a">M</text><path d="M45.4,4L50.9,-12" stroke="#1a1a1a" stroke-width="0.8" fill="none"/><text transform="translate(51.46,0.00) scale(1.041,1)" font-size="15.6" font-style="italic" fill="#1a1a1a">q</text><text transform="translate(59.27,0.00) scale(0.929,1)" font-size="17.6" fill="#1a1a1a">)</text><text transform="translate(64.92,-6.70) scale(1.180,1)" font-size="11.2" fill="#1a1a1a">2</text><g transform="translate(73.2,0)" fill="none" stroke="#1a1a1a" stroke-linecap="round" stroke-linejoin="round"><path d="M0.3,-9.6C0.4,-11.3 1.6,-11.8 2.0,-10.6L2.4,0.2" stroke-width="1.3"/><path d="M2.4,0.2L8.6,-11.0" stroke-width="0.75"/><path d="M8.6,-11.0L10.8,0.2" stroke-width="1.3"/><path d="M10.8,0.2C13,-3.4 14.8,-7.6 15.3,-10.2C15.6,-11.8 16.2,-12.4 16.6,-12.2" stroke-width="0.75"/></g><text transform="translate(91.47,-6.80) scale(0.968,1)" font-size="11.3" fill="#1a1a1a">i</text><text transform="translate(94.94,-6.80) scale(0.996,1)" font-size="11.3" fill="#1a1a1a">n</text><text transform="translate(100.62,-6.80) scale(0.829,1)" font-size="11.3" fill="#1a1a1a">;</text><text transform="translate(103.13,-6.80) scale(1.105,1)" font-size="11.8" font-style="italic" fill="#1a1a1a">ℓ</text></g>
</svg></body></html>
